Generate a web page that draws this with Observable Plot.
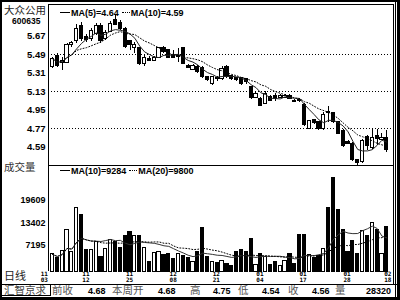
<!DOCTYPE html>
<html>
<head>
<meta charset="utf-8">
<script src="https://cdn.jsdelivr.net/npm/d3@7"></script>
<script src="https://cdn.jsdelivr.net/npm/@observablehq/plot@0.6"></script>
<style>
html,body{margin:0;padding:0;background:#fff;}
#wrap{position:relative;width:400px;height:300px;overflow:hidden;background:#fff;}
.t{position:absolute;white-space:nowrap;line-height:1;}
.cjk{font-family:"Noto Sans CJK SC",sans-serif;}
.lat{font-family:"Liberation Sans",Arial,sans-serif;font-weight:bold;color:#000;}
.sw{display:inline-block;width:10px;height:0;vertical-align:middle;margin-right:1px;position:relative;top:-1px;}
</style>
</head>
<body>
<div id="wrap"></div>
<script>
// ---------- data ----------
const open  = [5.37,5.48,5.41,5.41,5.58,5.62,5.77,5.66,5.64,5.69,5.77,5.64,5.71,5.83,5.80,5.74,5.62,5.55,5.55,5.40,
               5.45,5.43,5.46,5.55,5.53,5.48,5.47,5.55,5.38,5.34,5.37,5.36,5.27,5.20,5.26,5.25,5.37,5.28,5.26,5.26,
               5.25,5.17,5.07,5.06,5.01,5.08,5.09,5.07,5.07,5.09,5.04,5.05,5.00,4.77,4.85,4.83,4.77,4.93,4.92,4.83,
               4.75,4.64,4.62,4.46,4.44,4.69,4.58,4.70,4.66,4.68];
const high  = [5.46,5.50,5.46,5.60,5.62,5.78,5.80,5.68,5.74,5.79,5.79,5.72,5.81,5.87,5.82,5.75,5.63,5.61,5.56,5.48,
               5.47,5.47,5.56,5.57,5.54,5.53,5.55,5.56,5.39,5.39,5.38,5.37,5.28,5.28,5.28,5.37,5.38,5.29,5.27,5.27,
               5.26,5.18,5.12,5.07,5.13,5.09,5.11,5.10,5.10,5.10,5.05,5.06,5.01,4.85,4.86,4.84,4.93,4.98,4.93,4.84,
               4.76,4.65,4.63,4.47,4.66,4.70,4.77,4.76,4.72,4.75];
const low   = [5.35,5.36,5.33,5.40,5.56,5.60,5.62,5.61,5.62,5.67,5.60,5.63,5.70,5.77,5.72,5.55,5.53,5.50,5.38,5.37,
               5.42,5.42,5.45,5.50,5.45,5.45,5.41,5.39,5.35,5.33,5.31,5.26,5.23,5.19,5.23,5.24,5.26,5.24,5.23,5.19,
               5.20,5.05,5.06,4.98,5.00,5.03,5.03,5.06,5.06,5.05,5.02,5.02,4.79,4.76,4.81,4.75,4.75,4.83,4.82,4.71,
               4.59,4.61,4.45,4.41,4.43,4.56,4.57,4.60,4.65,4.54];
const close = [5.45,5.38,5.43,5.58,5.60,5.74,5.64,5.63,5.72,5.77,5.62,5.70,5.79,5.78,5.74,5.56,5.58,5.58,5.40,5.46,
               5.43,5.46,5.55,5.51,5.46,5.46,5.48,5.40,5.36,5.38,5.32,5.27,5.24,5.27,5.25,5.35,5.27,5.25,5.24,5.20,
               5.22,5.07,5.11,4.99,5.11,5.04,5.06,5.09,5.09,5.06,5.03,5.04,4.80,4.84,4.82,4.77,4.90,4.92,4.83,4.72,
               4.60,4.62,4.46,4.43,4.65,4.60,4.68,4.67,4.68,4.56];
const volume = [4712,3608,5623,11527,5447,17596,15555,5816,5816,8023,3884,6174,8575,8216,6367,9871,10975,9678,9871,6560,
                2698,5071,5447,4519,4712,3415,4712,4160,3608,2698,5264,12078,3884,2698,2422,2781,1953,1484,5264,6008,
                5447,8933,1760,4712,4077,1677,2587,1594,2781,4712,2146,10037,10037,4519,3608,4353,6285,17596,25873,17045,
                11500,5447,8300,4905,11300,9678,13500,11334,4712,12200];
const priceTicks = [5.67,5.49,5.31,5.13,4.95,4.77,4.59];
const priceGrid  = [5.49,5.13,4.77];
const volTicks   = [19609,13402,7195];
const dateTickIdx    = [-1.7,6.9,15.9,24.9,33.8,42.8,51.7,60.8,69.2];
const dateTickMonth  = ["11","11","11","12","12","01","01","01","02"];
const dateTickDay    = ["03","12","25","08","21","04","17","28","18"];
const stockName = "大众公用", stockCode = "600635";
const priceLegend = ["MA(5)=4.64","MA(10)=4.59"];
const volLegend   = ["MA(10)=9284","MA(20)=9800"];
const statusLabels = ["前收","本周开","高","低","收","量"];
const statusValues = ["4.68","4.68","4.75","4.54","4.56","28320"];

// ---------- build ----------
const candles = open.map((o,i)=>({i, open:o, high:high[i], low:low[i], close:close[i], up: close[i] >= o}));
const vols = volume.map((v,i)=>({i, vol:v, up: candles[i].up}));
const dateTicks = dateTickIdx.map((idx,k)=>({idx, month: dateTickMonth[k], day: dateTickDay[k]}));
const FONT = '"Liberation Sans", Arial, sans-serif';
const MONO = '"DejaVu Sans Mono", monospace';
const XDOM = [-0.826, 70.38];
const W = 0.33;

const wrap = document.getElementById("wrap");

const price = Plot.plot({
  width: 400, height: 166,
  marginLeft: 48, marginRight: 7, marginTop: 4, marginBottom: 1,
  style: {background: "transparent", fontFamily: FONT, fontWeight: "bold", fontSize: "9.5px", color: "#000"},
  x: {domain: XDOM, axis: null},
  y: {domain: [4.4103, 5.9764]},
  marks: [
    Plot.ruleY(priceGrid, {stroke: "#000", strokeDasharray: "1,2", strokeWidth: 1}),
    Plot.axisY(priceTicks, {anchor: "left", tickSize: 0, tickPadding: 3, tickFormat: d => d.toFixed(2), label: null}),
    Plot.ruleX(candles, {x: "i", y1: "low", y2: "high", stroke: "#000", shapeRendering: "crispEdges"}),
    Plot.rect(candles, {x1: d => d.i - W, x2: d => d.i + W, y1: "open", y2: "close",
      fill: d => d.up ? "#fff" : "#000", stroke: "#000", shapeRendering: "crispEdges"}),
    Plot.lineY(candles, Plot.windowY({k: 5, anchor: "end", strict: false, reduce: "mean"},
      {x: "i", y: "close", stroke: "#222", strokeWidth: 1})),
    Plot.lineY(candles, Plot.windowY({k: 10, anchor: "end", strict: false, reduce: "mean"},
      {x: "i", y: "close", stroke: "#000", strokeWidth: 1, strokeDasharray: "1,2"}))
  ]
});
price.style.position = "absolute"; price.style.left = "0px"; price.style.top = "0px";
wrap.appendChild(price);

const volPlot = Plot.plot({
  width: 400, height: 120,
  marginLeft: 48, marginRight: 7, marginTop: 0, marginBottom: 14,
  style: {background: "transparent", fontFamily: FONT, fontWeight: "bold", fontSize: "9px", color: "#000"},
  x: {domain: XDOM, axis: null},
  y: {domain: [0, 29270]},
  marks: [
    Plot.axisY(volTicks, {anchor: "left", tickSize: 0, tickPadding: 3, tickFormat: d => String(d), label: null}),
    Plot.rect(vols, {x1: d => d.i - W, x2: d => d.i + W, y1: 0, y2: "vol",
      fill: d => d.up ? "#fff" : "#000", stroke: "#000", shapeRendering: "crispEdges"}),
    Plot.lineY(vols, Plot.windowY({k: 10, anchor: "end", strict: false, reduce: "mean"},
      {x: "i", y: "vol", stroke: "#333", strokeWidth: 1})),
    Plot.lineY(vols, Plot.windowY({k: 20, anchor: "end", strict: false, reduce: "mean"},
      {x: "i", y: "vol", stroke: "#000", strokeWidth: 1, strokeDasharray: "1,2"})),
    Plot.text(dateTicks, {x: "idx", text: "month", frameAnchor: "bottom", lineAnchor: "top", dy: 0.5,
      fontSize: 6, fontFamily: MONO, fontWeight: "bold", fill: "#000"}),
    Plot.text(dateTicks, {x: "idx", text: "day", frameAnchor: "bottom", lineAnchor: "top", dy: 6.5,
      fontSize: 6, fontFamily: MONO, fontWeight: "bold", fill: "#000"})
  ]
});
volPlot.style.position = "absolute"; volPlot.style.left = "0px"; volPlot.style.top = "165px";
wrap.appendChild(volPlot);

// ---------- chrome ----------
const NS = "http://www.w3.org/2000/svg";
const chrome = document.createElementNS(NS, "svg");
chrome.setAttribute("width", 400); chrome.setAttribute("height", 300);
chrome.style.position = "absolute"; chrome.style.left = "0px"; chrome.style.top = "0px";
chrome.innerHTML = `
<g shape-rendering="crispEdges" fill="none" stroke="#000">
  <line x1="48.5" y1="4" x2="48.5" y2="271"/>
  <line x1="48" y1="4.5" x2="394" y2="4.5"/>
  <line x1="48" y1="165.5" x2="394" y2="165.5"/>
  <line x1="393.5" y1="4" x2="393.5" y2="285"/>
  <line x1="395.5" y1="0" x2="395.5" y2="300"/>
  <line x1="0" y1="284.5" x2="400" y2="284.5"/>
  <rect x="1.5" y="284.5" width="48.5" height="10.5"/>
</g>
<g shape-rendering="crispEdges" fill="#000">
  <rect x="0" y="0" width="2" height="300"/>
  <rect x="0" y="0" width="400" height="1.5"/>
  <rect x="397" y="0" width="3" height="300"/>
  <rect x="0" y="296.5" width="400" height="3.5"/>
</g>`;
wrap.appendChild(chrome);

function txt(s, left, top, cls, size, color) {
  const d = document.createElement("div");
  d.className = "t " + cls;
  d.textContent = s;
  d.style.left = left + "px"; d.style.top = top + "px";
  d.style.fontSize = size + "px";
  if (color) d.style.color = color;
  wrap.appendChild(d);
  return d;
}
txt(stockName, 4, 5, "cjk", 10.5, "#222");
txt(stockCode, 12, 17, "lat", 8.5, "#000");
txt("成交量", 4, 161.5, "cjk", 10.5, "#333");
txt("日线", 4, 270, "cjk", 11, "#222");

function legend(items, left, top) {
  const d = document.createElement("div");
  d.className = "t lat";
  d.style.left = left + "px"; d.style.top = top + "px"; d.style.fontSize = "9px";
  d.innerHTML = `<span class="sw" style="border-top:1px solid #000"></span>${items[0]}` +
    `<span class="sw" style="border-top:1px dotted #000;margin-left:3px;width:8px"></span>${items[1]}`;
  wrap.appendChild(d);
}
legend(priceLegend, 60, 8.5);
legend(volLegend, 60, 167);

// status bar
txt("汇智京求", 4, 285, "cjk", 10.5, "#444");
const lblX = [52, 112, 190, 238, 288, 335];
const valX = [88, 158, 213, 262, 312, 366];
statusLabels.forEach((s, k) => txt(s, lblX[k], 285, "cjk", 10.5, "#555"));
statusValues.forEach((s, k) => txt(s, valX[k], 286.5, "lat", 9, "#000"));
</script>
</body>
</html>
